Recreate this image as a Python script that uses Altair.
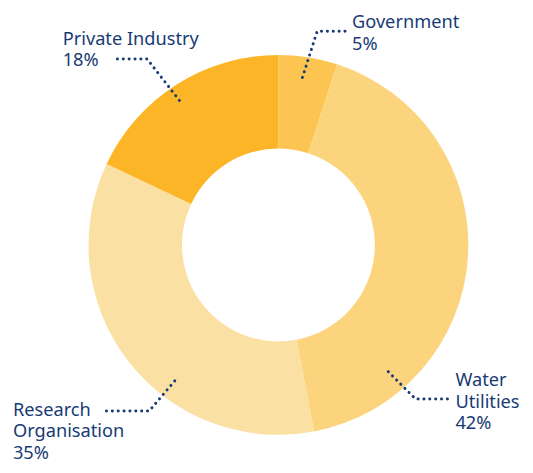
import altair as alt
import pandas as pd

categories = ["Government", "Water Utilities", "Research Organisation", "Private Industry"]
label_lines = ["Government", "Water\nUtilities", "Research\nOrganisation", "Private Industry"]
values = [5, 42, 35, 18]
colors = ["#FCC551", "#FCD47D", "#FBE0A4", "#FBB526"]

# annotation layout (chart pixel space)
label_x = [346, 450, 5, 55]
label_y = [19, 379, 409, 36]
leader_pts = [
    [(339, 22), (311, 22), (296, 69)],
    [(442, 392), (410, 392), (379, 361)],
    [(99, 404), (142, 404), (170, 371)],
    [(110, 50), (140, 50), (175, 95)],
]

W, H = 520, 455
CX, CY = 272, 237
NAVY = "#173B75"
FONT = "Noto Sans"

df = pd.DataFrame({"cat": categories, "value": values, "order": range(len(values))})
lab = pd.DataFrame({
    "cat": categories,
    "text": [f"{l}\n{v}%" for l, v in zip(label_lines, values)],
    "px": label_x, "py": label_y,
})
rows = []
for c, pts in zip(categories, leader_pts):
    for i, (x, y) in enumerate(pts):
        rows.append({"cat": c, "i": i, "px": x, "py": y})
lead = pd.DataFrame(rows)

xs = alt.Scale(domain=[0, W], range=[0, W])
ys = alt.Scale(domain=[0, H], range=[0, H])

donut = alt.Chart(df).mark_arc(innerRadius=97, outerRadius=191).encode(
    theta=alt.Theta("value:Q", stack=True),
    order=alt.Order("order:Q"),
    color=alt.Color("cat:N", scale=alt.Scale(domain=categories, range=colors), legend=None),
    x=alt.value(CX), y=alt.value(CY),
)

leaders = alt.Chart(lead).mark_line(
    color=NAVY, strokeWidth=3, strokeCap="round", strokeDash=[0.1, 5.8]
).encode(
    x=alt.X("px:Q", scale=xs, axis=None),
    y=alt.Y("py:Q", scale=ys, axis=None),
    detail="cat:N",
    order="i:Q",
)

texts = alt.Chart(lab).mark_text(
    align="left", baseline="alphabetic", lineBreak="\n", lineHeight=21.5,
    font=FONT, fontSize=18.3, color=NAVY,
).encode(
    x=alt.X("px:Q", scale=xs, axis=None),
    y=alt.Y("py:Q", scale=ys, axis=None),
    text="text:N",
)

chart = alt.layer(donut, leaders, texts).properties(
    width=W, height=H, padding=0, autosize=alt.AutoSizeParams(type="none")
).configure_view(stroke=None)

chart.save("out.html", embed_options={"renderer": "svg", "actions": False})
